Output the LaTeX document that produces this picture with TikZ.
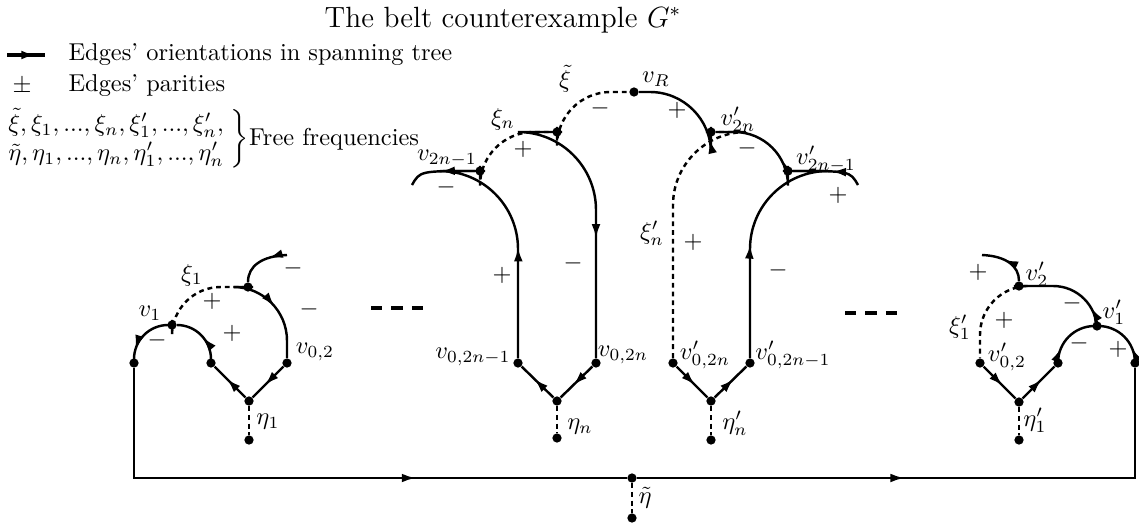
\documentclass[tikz,border=0pt]{standalone}
\usepackage{amsmath,amssymb}
\usetikzlibrary{arrows.meta,decorations.markings}
\tikzset{
  dot/.style={circle, fill=black, inner sep=0pt, minimum size=3.8pt},
  edge/.style={line width=1pt},
  free/.style={line width=1pt, dash pattern=on 2pt off 1.6pt},
  arrowat/.style={postaction={decorate}, decoration={markings,
      mark=at position #1 with {\arrow{Latex[length=5.8pt,width=3.6pt]}}}},
  lbl/.style={inner sep=1pt},
  gap/.style={line width=1.9pt, dash pattern=on 4.6pt off 3.8pt},
}

\begin{document}
\begin{tikzpicture}[x=0.41pt, y=-0.41pt]
  \useasboundingbox (0,0) rectangle (1139,524);

  % title and legend
  \node[font=\large, inner sep=0pt] (title) at (503,20) {The belt counterexample $G^*$};
  \coordinate (la) at (7,55);
  \coordinate (lb) at (45,55);
  \draw[edge, line width=1.3pt, arrowat=0.75] (la) -- (lb);
  \node[anchor=west] (lg1) at (60,55) {Edges' orientations in spanning tree};
  \node (lg2) at (22,86) {$\pm$};
  \node[anchor=west] (lg3) at (60,86) {Edges' parities};
  \node[anchor=west, inner sep=0pt] (lg4) at (5,139)
    {$\left.\begin{array}{@{}l@{}}\tilde\xi,\xi_1,...,\xi_n,\xi'_1,...,\xi'_n,\\
      \tilde\eta,\eta_1,...,\eta_n,\eta'_1,...,\eta'_n\end{array}\;\right\}$Free frequencies};

  % first gadget
  \node[dot] (v1) at (172,325) {};
  \node[dot] (a1) at (134,363) {};
  \node[dot] (b1) at (211,363) {};
  \node[dot] (c1) at (287,363) {};
  \node[dot] (e1) at (249,401) {};
  \node[dot] (f1) at (249,440) {};
  \node[dot] (t1) at (248,287) {};
  \coordinate (l1) at (287,255);
  \draw[edge, rounded corners=14, arrowat=0.8] (v1) -| (a1);
  \draw[edge, rounded corners=14, arrowat=0.45] (b1) |- (v1);
  \draw[edge, arrowat=0.6] (e1) -- (b1);
  \draw[edge, arrowat=0.6] (c1) -- (e1);
  \draw[edge, rounded corners=22, arrowat=0.55] (t1) -| (c1);
  \draw[edge, arrowat=0.35] (l1) .. controls (262,256) and (248,266) .. (t1);
  \draw[free, rounded corners=20] (v1) |- (t1);
  \draw[free] (e1) -- (f1);
  \node[lbl] (nv1) at (150,313) {$v_1$};
  \node[lbl] (nx1) at (192,275) {$\xi_1$};
  \node[lbl] (s11) at (212,301) {$+$};
  \node[lbl] (s12) at (157,340) {$-$};
  \node[lbl] (s13) at (232,333) {$+$};
  \node[lbl] (s14) at (309,309) {$-$};
  \node[lbl] (s15) at (293,268) {$-$};
  \node[lbl] (nc1) at (315,352) {$v_{0,2}$};
  \node[lbl] (ne1) at (268,422) {$\eta_1$};

  \coordinate (g1) at (371,308);
  \coordinate (g2) at (428,308);
  \draw[gap] (g1) -- (g2);

  % gadget n
  \node[dot] (p)  at (518,363) {};
  \node[dot] (q)  at (596,363) {};
  \node[dot] (en) at (557,401) {};
  \node[dot] (fn) at (557,438) {};
  \node[dot] (vn) at (480,171) {};
  \node[dot] (tn) at (557,132) {};
  \node[dot] (vR) at (634,92) {};
  \coordinate (ln) at (412,185);
  \draw[edge, arrowat=0.6] (en) -- (p);
  \draw[edge, arrowat=0.6] (q) -- (en);
  \draw[edge, rounded corners=32, arrowat=0.4] (p) |- (vn);
  \draw[edge, arrowat=0.5] (vn) .. controls (420,171) .. (ln);
  \draw[edge, rounded corners=32, arrowat=0.62] (tn) -| (q);
  \draw[free, rounded corners=22] (vn) |- (tn);
  \draw[free, rounded corners=22] (tn) |- (vR);
  \draw[free] (en) -- (fn);
  \node[lbl] (nvn) at (447,158) {$v_{2n-1}$};
  \node[lbl] (nxn) at (503,119) {$\xi_n$};
  \node[lbl] (nxt) at (565,79) {$\tilde\xi$};
  \node[lbl] (nvR) at (656,79) {$v_R$};
  \node[lbl] (sn1) at (523,149) {$+$};
  \node[lbl] (sn2) at (446,187) {$-$};
  \node[lbl] (sn3) at (502,275) {$+$};
  \node[lbl] (sn4) at (573,263) {$-$};
  \node[lbl] (sn5) at (600,108) {$-$};
  \node[lbl] (np)  at (473,357) {$v_{0,2n-1}$};
  \node[lbl] (nq)  at (623,355) {$v_{0,2n}$};
  \node[lbl] (nen) at (580,427) {$\eta_n$};

  % gadget n'
  \node[dot] (w)   at (711,132) {};
  \node[dot] (u)   at (788,171) {};
  \node[dot] (pp)  at (673,363) {};
  \node[dot] (qq)  at (750,363) {};
  \node[dot] (enp) at (711,401) {};
  \node[dot] (fnp) at (711,440) {};
  \coordinate (lp) at (858,185);
  \draw[edge, rounded corners=25, arrowat=0.3] (w) |- (vR);
  \draw[edge, rounded corners=22, arrowat=0.38] (u) |- (w);
  \draw[edge, arrowat=0.45] (lp) .. controls (850,171) .. (u);
  \draw[edge, rounded corners=32, arrowat=0.41] (qq) |- (u);
  \draw[edge, arrowat=0.6] (pp) -- (enp);
  \draw[edge, arrowat=0.6] (enp) -- (qq);
  \draw[free, rounded corners=30] (pp) |- (w);
  \draw[free] (enp) -- (fnp);
  \node[lbl] (nw)  at (738,119) {$v'_{2n}$};
  \node[lbl] (nu)  at (826,159) {$v'_{2n-1}$};
  \node[lbl] (sp1) at (677,110) {$+$};
  \node[lbl] (sp2) at (747,148) {$-$};
  \node[lbl] (sp3) at (838,195) {$+$};
  \node[lbl] (sp4) at (693,242) {$+$};
  \node[lbl] (sp5) at (778,270) {$-$};
  \node[lbl] (nxp) at (652,233) {$\xi'_n$};
  \node[lbl] (npp) at (705,355) {$v'_{0,2n}$};
  \node[lbl] (nqq) at (793,355) {$v'_{0,2n-1}$};
  \node[lbl] (nep) at (735,423) {$\eta'_n$};

  \coordinate (g3) at (845,313);
  \coordinate (g4) at (902,313);
  \draw[gap] (g3) -- (g4);

  % first gadget, primed
  \node[dot] (r02) at (980,363) {};
  \node[dot] (er)  at (1019,402) {};
  \node[dot] (fr)  at (1019,440) {};
  \node[dot] (br)  at (1058,363) {};
  \node[dot] (v1p) at (1097,326) {};
  \node[dot] (ar)  at (1135,363) {};
  \node[dot] (v2p) at (1019,286) {};
  \coordinate (lr) at (982,255);
  \draw[edge, arrowat=0.6] (r02) -- (er);
  \draw[edge, arrowat=0.6] (er) -- (br);
  \draw[edge, rounded corners=15, arrowat=0.3] (br) |- (v1p);
  \draw[edge, rounded corners=15, arrowat=0.3] (ar) |- (v1p);
  \draw[edge, rounded corners=18, arrowat=0.3] (v1p) |- (v2p);
  \draw[edge, arrowat=0.55] (v2p) .. controls (1019,266) and (1006,256) .. (lr);
  \draw[free, rounded corners=20] (v2p) -| (r02);
  \draw[free] (er) -- (fr);
  \node[lbl] (s21) at (978,272) {$+$};
  \node[lbl] (s22) at (1004,320) {$+$};
  \node[lbl] (s23) at (1072,303) {$-$};
  \node[lbl] (s24) at (1079,343) {$-$};
  \node[lbl] (s25) at (1118,349) {$+$};
  \node[lbl] (nv2p) at (1037,274) {$v'_2$};
  \node[lbl] (nv1p) at (1114,312) {$v'_1$};
  \node[lbl] (nx1p) at (960,327) {$\xi'_1$};
  \node[lbl] (nr02) at (1007,357) {$v'_{0,2}$};
  \node[lbl] (ner)  at (1035,420) {$\eta'_1$};

  % belt
  \node[dot] (nt) at (632,478) {};
  \node[dot] (ne) at (632,518) {};
  \draw[edge, arrowat=0.65] (a1) |- (nt);
  \draw[edge, arrowat=0.44] (nt) -| (ar);
  \draw[free] (nt) -- (ne);
  \node[lbl] (nnt) at (645,498) {$\tilde\eta$};
\end{tikzpicture}
\end{document}
